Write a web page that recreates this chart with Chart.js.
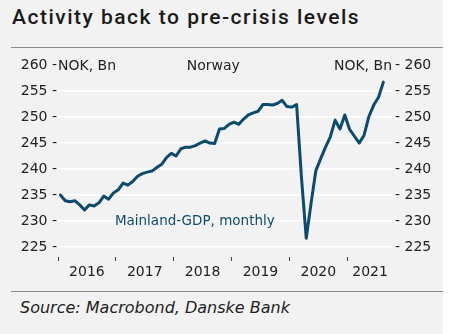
<!DOCTYPE html>
<html>
<head>
<meta charset="utf-8">
<script src="https://cdn.jsdelivr.net/npm/chart.js@4.4.1/dist/chart.umd.min.js"></script>
<style>
  html, body { margin: 0; padding: 0; background: #fff; }
  #frame { position: relative; width: 449px; height: 334px; overflow: hidden; }
  #panel { position: absolute; left: 0; top: 0; width: 443px; height: 334px; background: #f2f2f2; }
  #title { position: absolute; left: 12px; top: 7px; font: 500 21px Roboto; letter-spacing: 1.5px; line-height: 21px; color: #1a1a1a; white-space: nowrap; }
  .rule { position: absolute; left: 11px; width: 432px; height: 1px; background: #8a8a8a; }
  #source { position: absolute; left: 20px; top: 300px; font: italic 16px "DejaVu Sans"; line-height: 16px; color: #222; white-space: nowrap; }
  #chart { position: absolute; left: 0; top: 0; }
</style>
</head>
<body>
<div id="frame">
  <div id="panel"></div>
  <div id="title">Activity back to pre-crisis levels</div>
  <div class="rule" style="top:47px"></div>
  <div class="rule" style="top:291px"></div>
  <div id="source">Source: Macrobond, Danske Bank</div>
  <canvas id="chart" width="449" height="334"></canvas>
</div>
<script>
// Mainland-GDP Norway, monthly, NOK bn, from Jan 2016
const yearLabels = ['2016', '2017', '2018', '2019', '2020', '2021'];
const gdp = [
  235.0, 233.9, 233.7, 233.9, 233.1, 232.1, 233.1, 232.9, 233.5, 234.8, 234.2, 235.4,
  236.0, 237.3, 236.9, 237.6, 238.6, 239.1, 239.4, 239.6, 240.3, 240.9, 242.2, 243.0,
  242.5, 243.9, 244.2, 244.2, 244.5, 245.0, 245.4, 245.0, 244.9, 247.7, 247.8, 248.6,
  249.0, 248.6, 249.6, 250.4, 250.8, 251.1, 252.4, 252.4, 252.3, 252.6, 253.2, 252.0,
  251.9, 252.4, 238.5, 226.7, 233.4, 239.7, 242.0, 244.2, 246.2, 249.4, 247.7, 250.4,
  247.6, 246.3, 245.0, 246.5, 250.1, 252.3, 253.8, 256.7
];

const X_MIN = -0.5;
const X_MAX = 69;
const Y_MIN = 223.08;
const Y_MAX = 260;

const lineColor = '#0c4a6e';
const textColor = '#222222';
const axisFont = { family: 'DejaVu Sans', size: 14 };

// texts inside the plot, anchored in data space
const notesPlugin = {
  id: 'notes',
  afterDraw(chart) {
    const { ctx, chartArea, scales } = chart;
    const x = scales.x, y = scales.y;
    ctx.save();
    ctx.font = '14px "DejaVu Sans"';
    ctx.fillStyle = textColor;
    ctx.textBaseline = 'middle';
    ctx.textAlign = 'left';
    ctx.fillText('NOK, Bn', chartArea.left, y.getPixelForValue(260) + 1);
    ctx.textAlign = 'center';
    ctx.fillText('Norway', x.getPixelForValue(31.7), y.getPixelForValue(260) + 1);
    ctx.textAlign = 'right';
    ctx.fillText('NOK, Bn', chartArea.right - 1, y.getPixelForValue(260) + 1);
    ctx.font = '13.5px "DejaVu Sans"';
    ctx.fillStyle = lineColor;
    ctx.textAlign = 'left';
    ctx.fillText('Mainland-GDP, monthly', x.getPixelForValue(11.3), y.getPixelForValue(230));
    ctx.restore();
  }
};

new Chart(document.getElementById('chart'), {
  type: 'line',
  data: {
    datasets: [{
      label: 'Mainland-GDP, monthly',
      data: gdp.map((v, i) => ({ x: i, y: v })),
      borderColor: lineColor,
      borderWidth: 3,
      borderJoinStyle: 'round',
      borderCapStyle: 'round',
      pointRadius: 0,
      tension: 0,
      fill: false
    }]
  },
  options: {
    responsive: false,
    animation: false,
    layout: { padding: { top: 65, right: 0, bottom: 47, left: 0 } },
    plugins: {
      legend: { display: false },
      tooltip: { enabled: false }
    },
    scales: {
      x: {
        type: 'linear',
        min: X_MIN,
        max: X_MAX,
        afterFit: s => { s.height = 30; },
        afterBuildTicks: s => {
          const t = [];
          yearLabels.forEach((lab, k) => {
            const start = k * 12 - 0.5;
            const end = Math.min(start + 12, X_MAX);
            t.push({ value: start });
            t.push({ value: (start + end) / 2 });
          });
          s.ticks = t;
        },
        border: { display: false },
        grid: {
          display: true,
          drawOnChartArea: false,
          drawTicks: true,
          tickLength: 4,
          tickWidth: 1,
          tickColor: c => (c.index % 2 === 0 ? '#444444' : 'rgba(0,0,0,0)')
        },
        ticks: {
          autoSkip: false,
          maxRotation: 0,
          padding: 3,
          color: textColor,
          font: axisFont,
          callback: (v, i) => (i % 2 === 1 ? yearLabels[(i - 1) / 2] : '')
        }
      },
      y: {
        position: 'left',
        min: Y_MIN,
        max: Y_MAX,
        afterFit: s => { s.width = 58; },
        border: { display: false },
        grid: {
          color: c => (c.tick && c.tick.value >= 260 ? 'rgba(0,0,0,0)' : '#ffffff'),
          lineWidth: 1.5,
          drawTicks: false
        },
        ticks: {
          stepSize: 5,
          includeBounds: false,
          padding: 1,
          color: textColor,
          font: axisFont,
          callback: v => v + ' -'
        }
      },
      y2: {
        position: 'right',
        min: Y_MIN,
        max: Y_MAX,
        afterFit: s => { s.width = 56; },
        border: { display: false },
        grid: { display: false, drawTicks: false },
        ticks: {
          stepSize: 5,
          includeBounds: false,
          padding: 2,
          color: textColor,
          font: axisFont,
          callback: v => '- ' + v
        }
      }
    }
  },
  plugins: [notesPlugin]
});
</script>
</body>
</html>
